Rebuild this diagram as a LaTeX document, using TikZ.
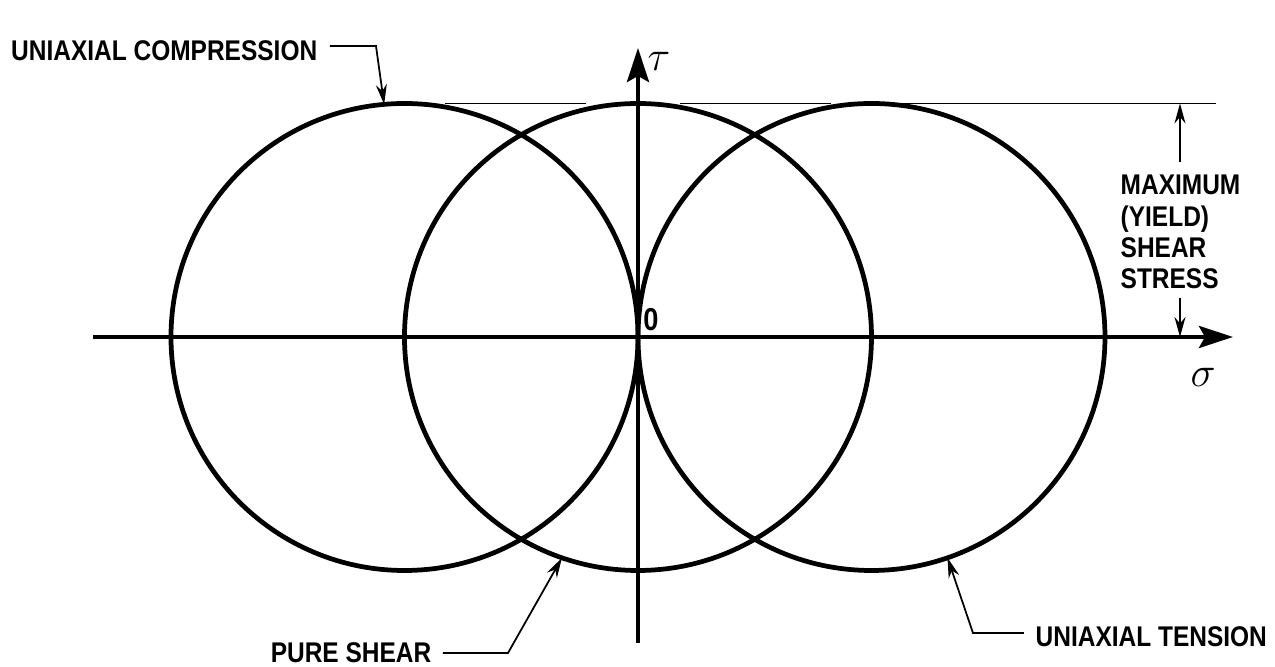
\documentclass[tikz,border=0pt]{standalone}
\usepackage{fontspec}
\setmainfont[FakeStretch=0.86]{Liberation Sans}
\usetikzlibrary{arrows.meta,calc}

\begin{document}
\begin{tikzpicture}[
    axis/.style={line width=1.2pt, -{Stealth[length=3.4mm, width=2.2mm, inset=0.6mm]}},
    mohr/.style={line width=1.35pt},
    leader/.style={line width=0.5pt, -{Stealth[length=2mm, width=1.1mm]}},
    guide/.style={line width=0.5pt},
    lbl/.style={font=\fontsize{8.1}{8.9}\selectfont\bfseries, inner sep=0pt}
  ]
  \useasboundingbox (-6.38,-3.30) rectangle (6.37,3.37);
  \def\R{2.335}

  % centres of the three circles
  \coordinate (O) at (0,0);
  \coordinate (cL) at (-\R,0);
  \coordinate (cR) at (\R,0);

  % axes
  \coordinate (sigS) at (-5.45,0);
  \coordinate (sigE) at (5.95,0);
  \coordinate (tauS) at (0,-3.06);
  \coordinate (tauE) at (0,2.89);
  \draw[axis] (sigS) -- (sigE);
  \draw[axis] (tauS) -- (tauE);
  \node (sig) at (5.65,-0.40) {\large$\sigma$};
  \node (tau) at (0.21,2.76) {\large$\tau$};
  \node[lbl, font=\fontsize{9}{10}\selectfont\bfseries] (zero) at (0.13,0.17) {0};

  % Mohr circles
  \draw[mohr] (cL) circle[radius=\R];
  \draw[mohr] (O) circle[radius=\R];
  \draw[mohr] (cR) circle[radius=\R];

  % level of maximum shear
  \draw[guide] (-1.93,\R) -- (-0.52,\R);
  \draw[guide] (0.42,\R) -- (1.93,\R);
  \draw[guide] (2.46,\R) -- (5.78,\R);

  \node[lbl, align=left, anchor=west] (maxs) at (4.82,1.05) {MAXIMUM\\(YIELD)\\SHEAR\\STRESS};
  \coordinate (dimT) at (5.42,\R);
  \coordinate (dimB) at (5.42,0);
  \draw[leader] (maxs.north -| dimT) ++(0,0.12) -- (dimT);
  \draw[leader] (maxs.south -| dimB) ++(0,-0.08) -- (dimB);

  % labels with leaders
  \node[lbl, anchor=east] (comp) at (-3.20,2.86) {UNIAXIAL COMPRESSION};
  \coordinate (compTip) at ($(cL)+(95:\R)$);
  \draw[leader] ($(comp.east)+(0.12,0.05)$) -- ++(0.46,0) -- (compTip);

  \node[lbl, anchor=east] (shear) at (-2.06,-3.16) {PURE SHEAR};
  \coordinate (shearTip) at ($(O)+(251:\R)$);
  \draw[leader] ($(shear.east)+(0.11,0)$) -- ++(0.65,0) -- (shearTip);

  \node[lbl, anchor=west] (tens) at (3.97,-3.00) {UNIAXIAL TENSION};
  \coordinate (tensTip) at ($(cR)+(289:\R)$);
  \draw[leader] ($(tens.west)+(-0.11,0.04)$) -- ++(-0.51,0) -- (tensTip);
\end{tikzpicture}
\end{document}
